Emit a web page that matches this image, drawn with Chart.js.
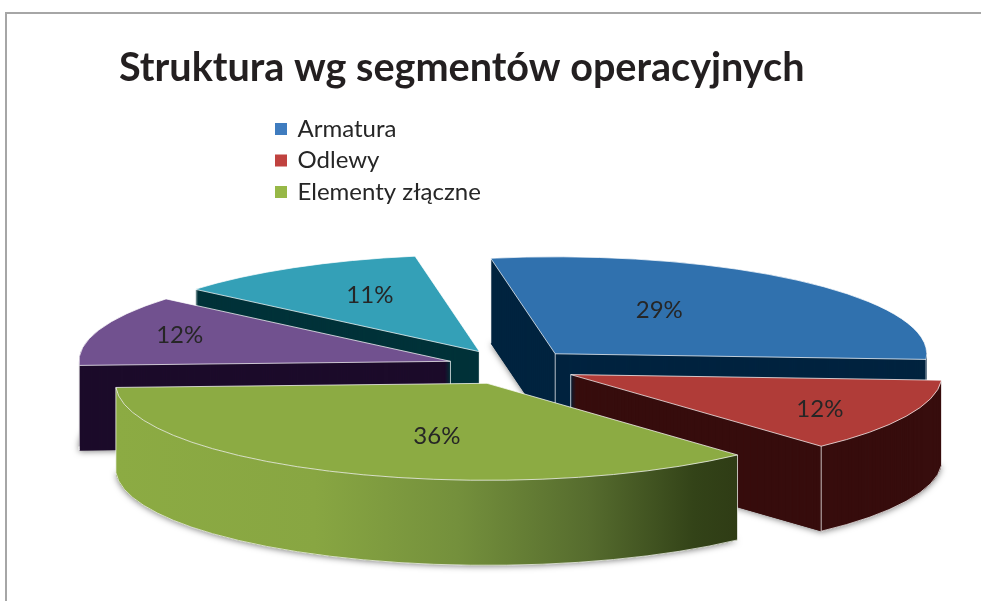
<!DOCTYPE html>
<html lang="pl">
<head>
<meta charset="utf-8">
<title>Struktura wg segmentów operacyjnych</title>
<script src="https://cdn.jsdelivr.net/npm/chart.js@4"></script>
<style>
html,body{margin:0;padding:0;background:#fff;overflow:hidden;width:981px;height:601px}
#wrap{position:relative;width:981px;height:601px;overflow:hidden}
#frame{position:absolute;left:5px;top:12px;width:1000px;height:700px;border:2px solid #a6a6a6;box-sizing:border-box}
canvas{position:absolute;left:0;top:0}
</style>
</head>
<body>
<div id="wrap"><div id="frame"></div><canvas id="c" width="981" height="601"></canvas></div>
<script>
const chartTitle = 'Struktura wg segmentów operacyjnych';
const categories = ['Armatura', 'Odlewy', 'Elementy złączne', '', ''];
const shares = [28.7, 12.3, 36.1, 11.8, 11.1];
const topColors = ['#3071ae', '#b03c38', '#8cab43', '#71518f', '#34a0b7'];
const legendColors = ['#3f7cbf', '#c0423f', '#97b847', '#71518f', '#34a0b7'];
const wallColors = ['#00233f', '#370d0d', '#8cab43', '#1c0b2a', '#003239'];
const paintOrder = [4, 3, 0, 1, 2];
const labelRadius = [0.47, 0.74, 0.45, 0.75, 0.58];
const labelShiftX = [-12, 1, 14, -7, -2];
const labelShiftY = [-9, 4, 13, -3, -8];

const VIEW = { cx: 512, cy: 367, rx: 371.5, ry: 97, depth: 85 };
const EDGE = 'rgba(255,255,255,0.72)';

function geom(chart, i) {
  const el = chart.getDatasetMeta(0).data[i];
  const k = VIEW.rx / el.outerRadius;
  const off = el.options.offset * k;
  const mid = (el.startAngle + el.endAngle) / 2;
  return {
    a0: el.startAngle, a1: el.endAngle, mid,
    x: VIEW.cx + Math.cos(mid) * off,
    y: VIEW.cy + Math.sin(mid) * off * 101 / VIEW.rx
  };
}
function slicePath(ctx, g, dy) {
  ctx.beginPath();
  ctx.moveTo(g.x, g.y + dy);
  ctx.ellipse(g.x, g.y + dy, VIEW.rx, VIEW.ry, 0, g.a0, g.a1);
  ctx.closePath();
}
function rim(g, a, dy) {
  return [g.x + Math.cos(a) * VIEW.rx, g.y + dy + Math.sin(a) * VIEW.ry];
}
function vLine(ctx, p, h) {
  ctx.beginPath();
  ctx.moveTo(p[0], p[1]);
  ctx.lineTo(p[0], p[1] + h);
  ctx.stroke();
}
const pie3d = {
  id: 'pie3d',
  afterLayout(chart) {
    const l = chart.legend;
    const w = l.width, h = l.height;
    l.left = 269; l.top = 109.5; l.right = 269 + w; l.bottom = 109.5 + h;
  },
  beforeDatasetsDraw(chart) {
    const ctx = chart.ctx;
    const depth = VIEW.depth;
    paintOrder.forEach(i => {
      const g = geom(chart, i);
      ctx.save();
      // soft shadow under the block
      ctx.save();
      ctx.shadowColor = 'rgba(0,0,0,0.5)';
      ctx.shadowBlur = 6;
      ctx.shadowOffsetX = 0;
      ctx.shadowOffsetY = 1;
      ctx.fillStyle = wallColors[i];
      slicePath(ctx, g, depth);
      ctx.fill();
      ctx.restore();
      // extruded body
      const base = i === 2 ? '#2f3c15' : wallColors[i];
      ctx.fillStyle = base;
      for (let d = depth; d > 0; d -= 1) {
        slicePath(ctx, g, d);
        ctx.fill();
      }
      if (i === 2) {
        const pL = rim(g, g.a1, 0), pR = rim(g, g.a0, 0);
        const grad = ctx.createLinearGradient(pL[0], 0, pR[0], 0);
        grad.addColorStop(0, '#8cab43');
        grad.addColorStop(0.32, '#88a642');
        grad.addColorStop(0.55, '#74903c');
        grad.addColorStop(0.76, '#566c2e');
        grad.addColorStop(0.93, '#334318');
        grad.addColorStop(1, '#2f3c15');
        ctx.fillStyle = grad;
        ctx.beginPath();
        ctx.ellipse(g.x, g.y, VIEW.rx, VIEW.ry, 0, g.a0, g.a1);
        ctx.ellipse(g.x, g.y + depth, VIEW.rx, VIEW.ry, 0, g.a1, g.a0, true);
        ctx.closePath();
        ctx.fill();
      }
      // top face
      slicePath(ctx, g, 0);
      ctx.fillStyle = topColors[i];
      ctx.fill();
      // thin light edges, only on the corners that face the viewer
      ctx.lineWidth = 1;
      ctx.strokeStyle = EDGE;
      ctx.stroke();
      const startWall = Math.cos(g.a0) < 0, endWall = Math.cos(g.a1) > 0;
      if (startWall || endWall) vLine(ctx, [g.x, g.y], depth);
      if (startWall || Math.sin(g.a0) > 0) vLine(ctx, rim(g, g.a0, 0), depth);
      if (endWall || Math.sin(g.a1) > 0) vLine(ctx, rim(g, g.a1, 0), depth);
      const from = Math.max(g.a0, 0), to = Math.min(g.a1, Math.PI);
      if (to > from) {
        ctx.beginPath();
        ctx.ellipse(g.x, g.y + depth, VIEW.rx, VIEW.ry, 0, from, to);
        ctx.stroke();
      }
      ctx.restore();
    });
    return false;
  },
  afterDraw(chart) {
    const ctx = chart.ctx;
    const ds = chart.data.datasets[0].data;
    const total = ds.reduce((a, b) => a + b, 0);
    ctx.save();
    ctx.font = '24px Lato';
    ctx.fillStyle = '#262626';
    ctx.textAlign = 'center';
    ctx.textBaseline = 'middle';
    ds.forEach((v, i) => {
      const g = geom(chart, i);
      const x = g.x + Math.cos(g.mid) * VIEW.rx * labelRadius[i] + labelShiftX[i];
      const y = g.y + Math.sin(g.mid) * VIEW.ry * labelRadius[i] + labelShiftY[i];
      ctx.fillText(Math.round(v / total * 100) + '%', x, y);
    });
    ctx.restore();
  }
};

new Chart(document.getElementById('c'), {
  type: 'pie',
  plugins: [pie3d],
  data: {
    labels: categories,
    datasets: [{
      data: shares,
      backgroundColor: legendColors,
      borderColor: legendColors,
      borderWidth: 3,
      offset: 35
    }]
  },
  options: {
    responsive: false,
    animation: false,
    rotation: -10,
    radius: 200,
    layout: { padding: { left: 119, top: 44 } },
    plugins: {
      tooltip: { enabled: false },
      title: {
        display: true,
        text: chartTitle,
        align: 'start',
        color: '#231f20',
        font: { family: 'Lato', size: 39.6, weight: 'bold' },
        padding: 0
      },
      legend: {
        position: 'left',
        align: 'start',
        labels: {
          filter: item => item.text !== '',
          boxWidth: 9,
          boxHeight: 9,
          padding: 7.5,
          color: '#262626',
          font: { family: 'Lato', size: 24 }
        }
      }
    }
  }
});
</script>
</body>
</html>
